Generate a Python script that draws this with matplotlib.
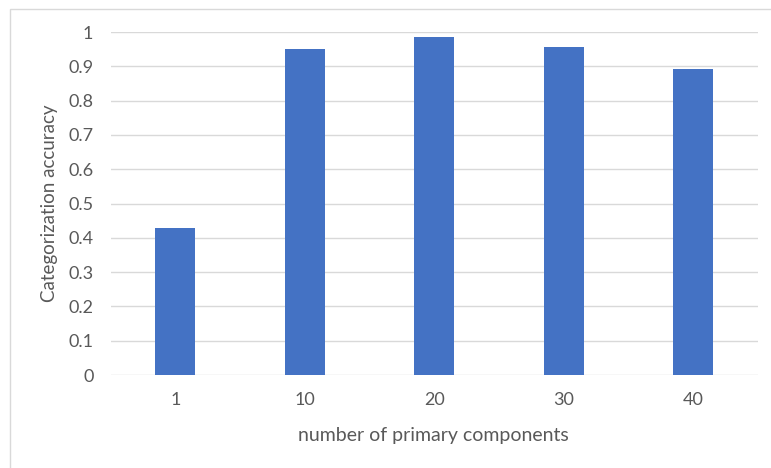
import matplotlib
matplotlib.use("Agg")
import matplotlib.pyplot as plt
from matplotlib.patches import Rectangle

# Accuracy by number of principal components kept
components = ["1", "10", "20", "30", "40"]
accuracy = [0.43, 0.951, 0.984, 0.956, 0.891]
y_ticks = [0, 0.1, 0.2, 0.3, 0.4, 0.5, 0.6, 0.7, 0.8, 0.9, 1]
y_tick_labels = ["0", "0.1", "0.2", "0.3", "0.4", "0.5", "0.6", "0.7", "0.8", "0.9", "1"]

W, H = 771, 468
plt.rcParams["font.family"] = ["Lato", "DejaVu Sans"]
text_color = "#595959"
grid_color = "#D9D9D9"
bar_color = "#4472C4"

fig = plt.figure(figsize=(W / 100, H / 100), dpi=100)
fig.patch.set_facecolor("white")

# chart-area frame
fig.patches.append(Rectangle((10 / W, -0.05), 1.2, 1.05 - 9 / H,
                             transform=fig.transFigure, fill=False,
                             edgecolor=grid_color, linewidth=1.0, zorder=0))

left, right, bottom, top = 110.75, 758, 375, 32
ax_w, ax_h = right - left, bottom - top
ax = fig.add_axes([left / W, 1 - bottom / H, ax_w / W, ax_h / H])

x = list(range(len(components)))
ax.bar(x, accuracy, width=0.309, color=bar_color, zorder=3)

ax.set_xlim(-0.5, len(components) - 0.5)
ax.set_ylim(0, 1)
ax.set_yticks(y_ticks)
ax.set_yticklabels(y_tick_labels)
ax.set_xticks(x)
ax.set_xticklabels(components)

ax.grid(axis="y", color=grid_color, linewidth=1.0, zorder=0)
ax.set_axisbelow(True)
for s in ax.spines.values():
    s.set_visible(False)
ax.tick_params(axis="both", length=0, colors=text_color, labelsize=13)
ax.tick_params(axis="y", pad=12.5)
ax.tick_params(axis="x", pad=12.5)

ax.set_xlabel("number of primary components", fontsize=14, color=text_color,
              va="center", ha="center")
ax.set_ylabel("Categorization accuracy", fontsize=13.5, color=text_color,
              va="center", ha="center")
ax.xaxis.set_label_coords((433.5 - left) / ax_w, (bottom - 435) / ax_h)
ax.yaxis.set_label_coords((50 - left) / ax_w, (bottom - 203) / ax_h)

fig.savefig("out.png", dpi=100, facecolor="white")
